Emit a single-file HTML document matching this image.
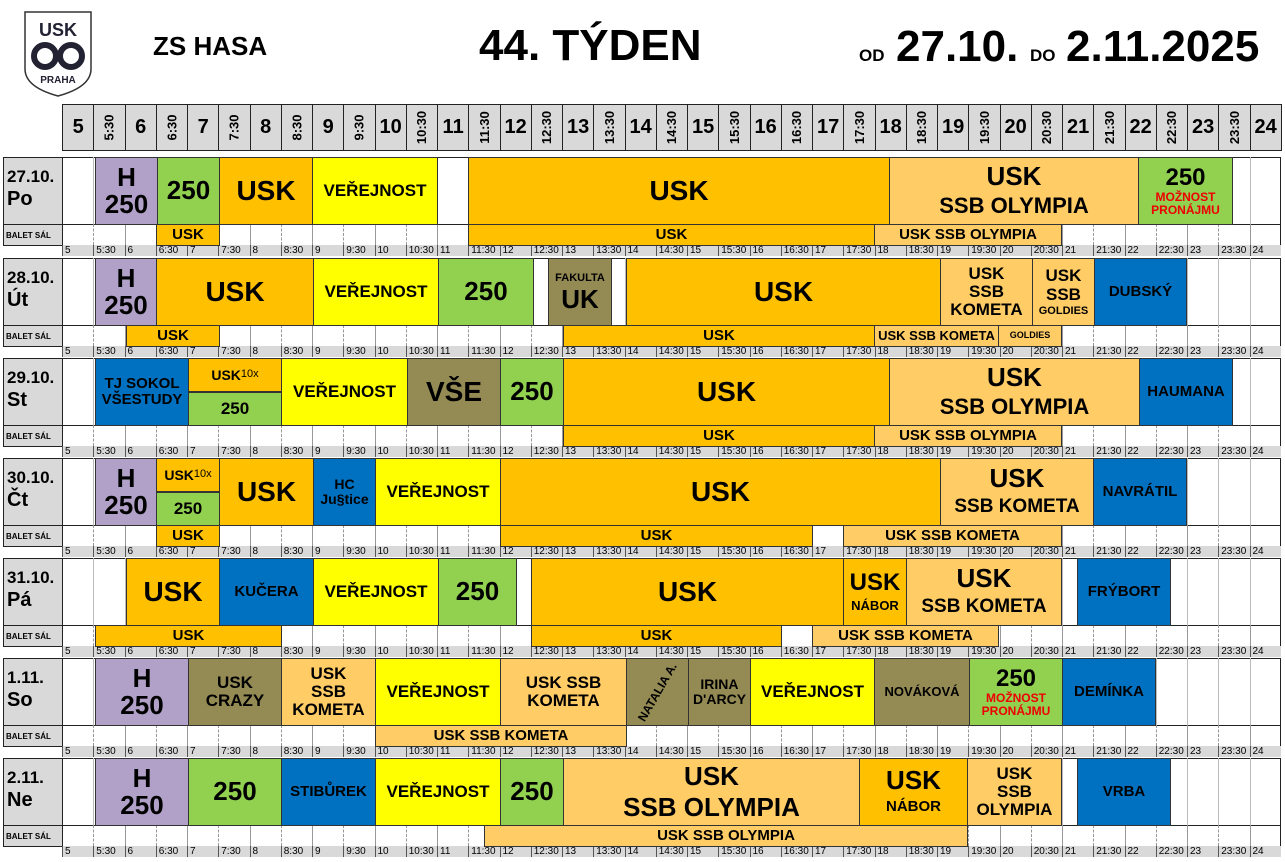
<!DOCTYPE html>
<html><head><meta charset="utf-8">
<style>
*{margin:0;padding:0;box-sizing:border-box}
body{width:1285px;height:862px;background:#fff;position:relative;overflow:hidden;font-family:"Liberation Sans",Arial,sans-serif;font-weight:bold;color:#000}
.a{position:absolute}
.b{position:absolute;display:flex;align-items:center;justify-content:center;text-align:center;border:1px solid #333;line-height:1.05;overflow:hidden}
.b span.k{display:block}
.hc{position:absolute;top:104px;height:47px;background:#d9d9d9;border:1px solid #222;display:flex;align-items:center;justify-content:center}
.rot{transform:rotate(-90deg);font-size:13px;white-space:nowrap}
.tl{position:absolute;font-size:10px;font-weight:normal;line-height:11px;padding-left:2px;border-left:1px solid #555;height:11px}
</style></head><body>
<svg class="a" style="left:24px;top:11px" width="68" height="86" viewBox="0 0 68 86">
<path d="M1,1 H67 V58 Q67,76 34,85 Q1,76 1,58 Z" fill="#fff" stroke="#333" stroke-width="1.5"/>
<text x="34" y="25" font-size="18" font-family="Liberation Sans" font-weight="bold" text-anchor="middle" fill="#223">USK</text>
<circle cx="21" cy="45" r="11" fill="none" stroke="#223" stroke-width="6"/>
<circle cx="47" cy="45" r="11" fill="none" stroke="#223" stroke-width="6"/>
<text x="34" y="72" font-size="10" font-family="Liberation Sans" font-weight="bold" text-anchor="middle" fill="#223">PRAHA</text>
</svg>
<div class="a" style="left:153px;top:31px;font-size:26px">ZS HASA</div>
<div class="a" style="left:479px;top:21px;font-size:44px">44. TÝDEN</div>
<div class="a" style="left:859px;top:46px;font-size:17px">OD</div>
<div class="a" style="left:896px;top:22px;font-size:44px">27.10.</div>
<div class="a" style="left:1030px;top:46px;font-size:17px">DO</div>
<div class="a" style="left:1066px;top:22px;font-size:44px">2.11.2025</div>
<div id="g"></div>
<script>
var W=31.25,X0=62;
function x(k){return X0+k*W;}
var h='';
var labs=[];
for(var k=0;k<39;k++){var hr=5+Math.floor(k/2);labs.push(k%2?hr+':30':''+hr);}
for(var k=0;k<39;k++){
 h+='<div class="hc" style="left:'+x(k)+'px;width:'+(W+1)+'px">'+(k%2?'<span class="rot">'+labs[k]+'</span>':'<span style="font-size:20px">'+labs[k]+'</span>')+'</div>';
}
var T=[157,258,358,458,558,658,758];
var days=[['27.10.','Po'],['28.10.','Út'],['29.10.','St'],['30.10.','Čt'],['31.10.','Pá'],['1.11.','So'],['2.11.','Ne']];
var C={o:'#ffc000',l:'#ffcc66',g:'#92d050',y:'#ffff00',p:'#b1a0c7',v:'#948a54',u:'#0070c0'};
function B(t,x1,x2,y1,y2,c,txt,fs){h+='<div class="b" style="left:'+x1+'px;top:'+y1+'px;width:'+(x2-x1+1)+'px;height:'+(y2-y1+1)+'px;background:'+C[c]+';font-size:'+(fs||26)+'px">'+txt+'</div>';}
for(var d=0;d<7;d++){
 var t=T[d];
 h+='<div class="a" style="left:3px;top:'+t+'px;width:60px;height:68px;background:#d9d9d9;border:1px solid #222;padding:8px 0 0 3px;font-size:17px;line-height:22px">'+days[d][0]+'<br><span style="font-size:20px">'+days[d][1]+'</span></div>';
 h+='<div class="a" style="left:3px;top:'+(t+67)+'px;width:60px;height:22px;background:#d9d9d9;border:1px solid #222;padding:6px 0 0 2px;font-size:8px">BALET SÁL</div>';
 h+='<div class="a" style="left:62px;top:'+t+'px;width:1219px;height:68px;border:1px solid #222;background:#fff"></div>';
 h+='<div class="a" style="left:62px;top:'+(t+67)+'px;width:1219px;height:22px;border:1px solid #222;background:#fff"></div>';
 for(var k=1;k<39;k++){
  h+='<div class="a" style="left:'+x(k)+'px;top:'+t+'px;width:0;height:67px;border-left:1px solid #bbb"></div>';
  h+='<div class="a" style="left:'+x(k)+'px;top:'+(t+67)+'px;width:0;height:21px;border-left:1px '+(k%2?'dashed':'solid')+' #999"></div>';
 }
 h+='<div class="a" style="left:62px;top:'+(t+88)+'px;width:1219px;height:11px;background:#d9d9d9"></div>';
 for(var k=0;k<39;k++)h+='<div class="tl" style="left:'+x(k)+'px;top:'+(t+88)+'px">'+labs[k]+'</div>';
}
function M(d,x1,x2,c,txt,fs){B(0,x1,x2,T[d],T[d]+67,c,txt,fs);}
function S(d,x1,x2,c,txt,fs){B(0,x1,x2,T[d]+67,T[d]+88,c,txt,fs||15);}
function K(s,fs,lh){return '<span class="k" style="font-size:'+fs+'px;line-height:'+(lh||Math.round(fs*1.1))+'px">'+s+'</span>';}
function SPL(d,x1,x2){B(0,x1,x2,T[d],T[d]+33,'o','USK<span style="font-size:11px;font-weight:normal">10x</span>',14);B(0,x1,x2,T[d]+34,T[d]+67,'g','250',17);}
var H='H<br>250',VE='VEŘEJNOST';
var RED='<span class="k" style="color:#e00;font-size:12px;line-height:13px">MOŽNOST<br>PRONÁJMU</span>';
var P250='<div>'+K('250',24,26)+RED+'</div>';
var OLY='<div>'+K('USK',26,30)+K('SSB OLYMPIA',22,30)+'</div>';
var KOM='<div>'+K('USK',26,30)+K('SSB KOMETA',19,28)+'</div>';
// Day 0
M(0,95,157,'p',H);M(0,157,219,'g','250');M(0,219,312,'o','USK',28);M(0,312,437,'y',VE,17);
M(0,468,889,'o','USK',28);M(0,889,1138,'l',OLY);M(0,1138,1232,'g',P250);
S(0,156,219,'o','USK');S(0,468,874,'o','USK');S(0,874,1061,'l','USK SSB OLYMPIA');
// Day 1
M(1,95,156,'p',H);M(1,156,313,'o','USK',28);M(1,313,438,'y',VE,17);M(1,438,533,'g','250');
M(1,548,611,'v','<div>'+K('FAKULTA',11,13)+K('UK',26,28)+'</div>');
M(1,626,940,'o','USK',28);M(1,940,1032,'l','USK<br>SSB<br>KOMETA',17);
M(1,1032,1094,'l','<div>'+K('USK<br>SSB',17,19)+K('GOLDIES',11,14)+'</div>');
M(1,1094,1186,'u','DUBSKÝ',15);
S(1,126,219,'o','USK');S(1,563,874,'o','USK');S(1,874,998,'l','USK SSB KOMETA',13);S(1,998,1061,'l','GOLDIES',9);
// Day 2
M(2,95,188,'u','TJ SOKOL<br>VŠESTUDY',15);SPL(2,188,281);M(2,281,407,'y',VE,17);M(2,407,500,'v','VŠE',28);
M(2,500,563,'g','250');M(2,563,889,'o','USK',28);M(2,889,1139,'l',OLY);M(2,1139,1232,'u','HAUMANA',15);
S(2,563,874,'o','USK');S(2,874,1061,'l','USK SSB OLYMPIA');
// Day 3
M(3,95,156,'p',H);SPL(3,156,219);M(3,219,313,'o','USK',28);M(3,313,375,'u','HC<br>Ju§tice',14);
M(3,375,500,'y',VE,17);M(3,500,940,'o','USK',28);M(3,940,1093,'l',KOM);M(3,1093,1186,'u','NAVRÁTIL',15);
S(3,156,219,'o','USK');S(3,500,812,'o','USK');S(3,843,1061,'l','USK SSB KOMETA');
// Day 4
M(4,126,219,'o','USK',28);M(4,219,313,'u','KUČERA',15);M(4,313,438,'y',VE,17);M(4,438,516,'g','250');
M(4,531,843,'o','USK',28);M(4,843,906,'o','<div>'+K('USK',24,27)+K('NÁBOR',13,20)+'</div>');
M(4,906,1061,'l',KOM);M(4,1077,1170,'u','FRÝBORT',15);
S(4,95,281,'o','USK');S(4,531,781,'o','USK');S(4,812,998,'l','USK SSB KOMETA');
// Day 5
M(5,95,188,'p',H);M(5,188,281,'v','USK<br>CRAZY',17);M(5,281,375,'l','USK<br>SSB<br>KOMETA',17);
M(5,375,500,'y',VE,17);M(5,500,626,'l','USK SSB<br>KOMETA',17);
M(5,626,688,'v','<span style="display:inline-block;transform:rotate(-60deg);white-space:nowrap;font-size:12px">NATALIA A.</span>');
M(5,688,750,'v',"IRINA<br>D'ARCY",14);M(5,750,874,'y',VE,17);M(5,874,969,'v','NOVÁKOVÁ',13);
M(5,969,1062,'g',P250);M(5,1062,1155,'u','DEMÍNKA',15);
S(5,375,626,'l','USK SSB KOMETA');
// Day 6
M(6,95,188,'p',H);M(6,188,281,'g','250');M(6,281,375,'u','STIBŮREK',15);M(6,375,500,'y',VE,17);
M(6,500,563,'g','250');M(6,563,859,'l','<div>'+K('USK',26,30)+K('SSB OLYMPIA',26,32)+'</div>');
M(6,859,967,'o','<div>'+K('USK',26,30)+K('NÁBOR',15,24)+'</div>');
M(6,967,1061,'l','USK<br>SSB<br>OLYMPIA',17);M(6,1077,1170,'u','VRBA',15);
S(6,484,967,'l','USK SSB OLYMPIA');
document.getElementById('g').innerHTML=h;
</script>
</body></html>
